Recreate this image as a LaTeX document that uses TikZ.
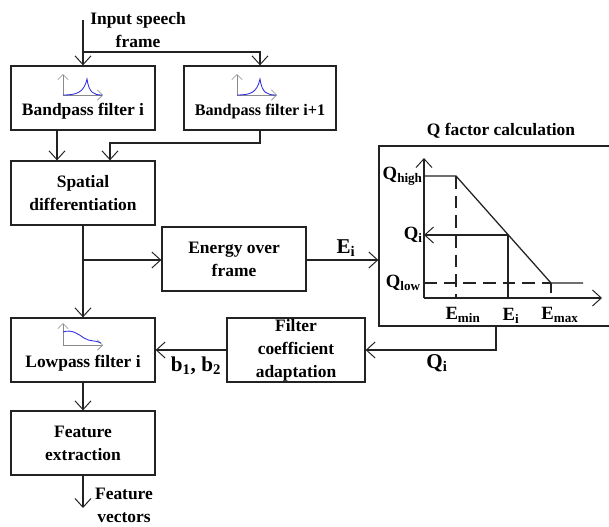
\documentclass[tikz,border=0pt]{standalone}
\usepackage{fontspec}
\setmainfont{Liberation Serif}
\usetikzlibrary{arrows.meta}
\definecolor{lineblack}{HTML}{222222}
\definecolor{plotgray}{HTML}{8A8A8A}
\definecolor{plotblue}{HTML}{2A2AE0}
\tikzset{
  blockbox/.style={draw=lineblack,line width=0.9pt,minimum width=36mm,minimum height=16mm,inner sep=0pt,align=center,font=\fontsize{12.4}{16.3}\selectfont\bfseries},
  lowtext/.style={text height=8.5mm,text depth=0pt},
  txt/.style={inner sep=0pt,align=center,font=\fontsize{12.4}{16.3}\selectfont\bfseries},
  sym/.style={inner sep=0pt,font=\fontsize{13.3}{15}\selectfont\bfseries},
  bigsym/.style={inner sep=0pt,font=\fontsize{15}{15}\selectfont\bfseries},
  conn/.style={draw=lineblack,line width=0.9pt,-{Straight Barb[length=2.2mm,width=4mm,line width=0.7pt]}},
  plain/.style={draw=lineblack,line width=0.9pt},
  miniaxis/.style={draw=plotgray,line width=0.5pt,-{Straight Barb[length=1.3mm,width=2.6mm,line width=0.4pt]}},
  minicurve/.style={draw=plotblue,line width=0.6pt}
}
\begin{document}
\begin{tikzpicture}[x=0.25mm,y=-0.25mm]
  \useasboundingbox (0,0) rectangle (609,527);
  \node[blockbox,lowtext] (bpa) at (83,98) {Bandpass filter i};
  \node[blockbox,lowtext,minimum width=38mm,font=\fontsize{11.5}{16.3}\selectfont\bfseries] (bpb) at (260,98) {Bandpass filter i+1};
  \node[blockbox] (spat) at (83,193) {Spatial\\differentiation};
  \node[blockbox] (energy) at (234,259) {Energy over\\frame};
  \node[blockbox,lowtext] (lowp) at (83,350) {Lowpass filter i};
  \node[blockbox,minimum width=34.5mm] (coef) at (296,350) {Filter\\coefficient\\adaptation};
  \node[blockbox] (feat) at (83,443) {Feature\\extraction};
  \node[draw=lineblack,line width=0.9pt,minimum width=58mm,minimum height=45mm,inner sep=0pt] (qbox) at (495,236) {};

  \node[txt] (intxt) at (138,30) {Input speech\\frame};
  \node[txt] (outtxt) at (124,505) {Feature\\vectors};
  \node[txt] (qtitle) at (501,131) {Q factor calculation};

  \coordinate (instart) at (83,20);
  \coordinate (insplit) at (83,52);
  \coordinate (bpaout) at (57,143);
  \coordinate (bpbin) at (110,143);
  \coordinate (enbranch) at (83,260);
  \coordinate (qout) at (496,350);
  \coordinate (featend) at (83,508);

  \draw[conn] (instart) -- (instart |- bpa.north);
  \draw[conn] (insplit) -| (bpb.north);
  \draw[conn] (bpaout |- bpa.south) -- (bpaout |- spat.north);
  \draw[conn] (bpb.south) |- (bpbin) -- (bpbin |- spat.north);
  \draw[conn] (spat.south -| enbranch) -- (lowp.north -| enbranch);
  \draw[conn] (enbranch) -- (enbranch -| energy.west);
  \draw[conn] (enbranch -| energy.east) -- (enbranch -| qbox.west);
  \draw[conn] (qout |- qbox.south) |- (qout -| coef.east);
  \draw[conn] (qout -| coef.west) -- (qout -| lowp.east);
  \draw[conn] (lowp.south) -- (feat.north);
  \draw[conn] (feat.south) -- (featend);

  \node[bigsym] (elabel) at (346,248) {E\textsubscript{i}};
  \node[bigsym] (qlabel) at (437,363) {Q\textsubscript{i}};
  \node[bigsym] (blabel) at (196,366) {b\textsubscript{1}, b\textsubscript{2}};

  % small filter curves
  \draw[miniaxis] (63,95) -- (63,74);
  \draw[miniaxis] (63,95) -- (103,95);
  \draw[minicurve] (63,95) .. controls (76,95) and (84,93) .. (87,79) .. controls (89,93) and (94,95) .. (102,95);
  \draw[miniaxis] (237,95) -- (237,74);
  \draw[miniaxis] (237,95) -- (277,95);
  \draw[minicurve] (237,95) .. controls (250,95) and (257,93) .. (260,79) .. controls (262,93) and (267,95) .. (276,95);
  \draw[miniaxis] (63,345) -- (63,323);
  \draw[miniaxis] (63,345) -- (103,345);
  \draw[minicurve] (63,332) .. controls (72,329) and (78,334) .. (84,338) .. controls (90,342) and (96,340) .. (101,343);

  % Q curve
  \coordinate (orig) at (424,298);
  \coordinate (qhi) at (424,176);
  \coordinate (emin) at (456,176);
  \coordinate (emax) at (551,283);
  \coordinate (ei) at (508,235);
  \draw[conn] (orig) -- (424,158);
  \draw[conn] (orig) -- (602,298);
  \draw[plain] (qhi) -- (emin) -- (emax) -- (583,283);
  \draw[plain,dashed,dash pattern=on 9pt off 5pt] (emin) -- (emin |- orig);
  \draw[plain,dashed,dash pattern=on 9pt off 5pt] (424,283) -- (emax);
  \draw[plain] (emax) -- (551,293);
  \draw[conn] (ei) -- (424,235);
  \draw[plain] (ei) -- (ei |- orig);
  \node[sym,anchor=east] (qhighl) at (423,176) {Q\textsubscript{high}};
  \node[sym,anchor=east] (qil) at (423,235) {Q\textsubscript{i}};
  \node[sym,anchor=east] (qlowl) at (421,283) {Q\textsubscript{low}};
  \node[sym] (eminl) at (463,315) {E\textsubscript{min}};
  \node[sym] (eil) at (511,316) {E\textsubscript{i}};
  \node[sym] (emaxl) at (560,315) {E\textsubscript{max}};
\end{tikzpicture}
\end{document}
